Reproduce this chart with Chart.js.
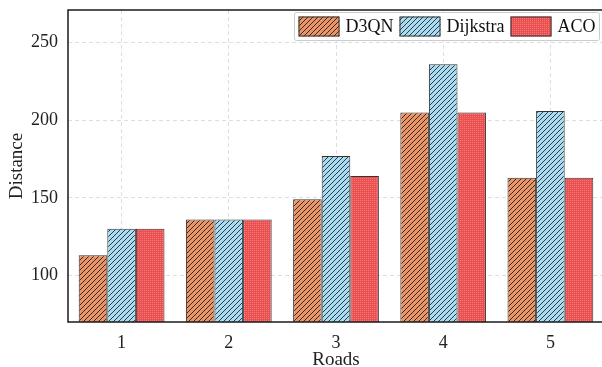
<!DOCTYPE html>
<html>
<head>
<meta charset="utf-8">
<script src="https://cdn.jsdelivr.net/npm/chart.js@4"></script>
<style>
    html, body { margin: 0; padding: 0; background: #fff; overflow: hidden; }
    #wrap { width: 606px; height: 367px; }
</style>
</head>
<body>
<div id="wrap"><canvas id="roadsChart"></canvas></div>
<script>
const roads = ["1", "2", "3", "4", "5"];
const d3qn = [113, 136, 149, 205, 163];
const dijkstra = [130, 136, 177, 236, 206];
const aco = [130, 136, 164, 205, 163];
const yTicks = [100, 150, 200, 250];

const serif = "'Liberation Serif', 'Times New Roman', serif";

// diagonal "/" hatch tile
function hatch(bg, line) {
    const s = 5;
    const c = document.createElement("canvas");
    c.width = s; c.height = s;
    const g = c.getContext("2d");
    g.fillStyle = bg;
    g.fillRect(0, 0, s, s);
    g.strokeStyle = line;
    g.lineWidth = 1;
    g.beginPath();
    g.moveTo(-1, s + 1); g.lineTo(s + 1, -1);
    g.moveTo(-1, 1); g.lineTo(1, -1);
    g.moveTo(s - 1, s + 1); g.lineTo(s + 1, s - 1);
    g.stroke();
    return g.createPattern(c, "repeat");
}

// fine dotted texture for ACO
function dots(bg, dot) {
    const c = document.createElement("canvas");
    c.width = 2; c.height = 2;
    const g = c.getContext("2d");
    g.fillStyle = bg;
    g.fillRect(0, 0, 2, 2);
    g.fillStyle = dot;
    g.fillRect(0, 0, 1, 1);
    return g.createPattern(c, "repeat");
}

const frame = {
    id: "frame",
    afterDatasetsDraw(chart) {
        const a = chart.chartArea, ctx = chart.ctx;
        ctx.save();
        ctx.strokeStyle = "#1a1a1a";
        ctx.lineWidth = 1.5;
        ctx.strokeRect(a.left, a.top, a.right - a.left, a.bottom - a.top);
        ctx.restore();
    }
};

const legendBox = {
    id: "legendBox",
    afterDraw(chart) {
        const ctx = chart.ctx;
        ctx.save();
        ctx.font = "18px " + serif;
        const pw = 41, ph = 20, gap = 6, pad = 4, right = 599.5, top = 12.5, h = 28;
        const items = chart.data.datasets.map(ds => ({
            label: ds.label, fill: ds.backgroundColor, w: ctx.measureText(ds.label).width
        }));
        let total = pad * 2 + gap * (items.length - 1);
        items.forEach(it => total += pw + gap + it.w);
        let x = right - total;

        ctx.fillStyle = "rgba(255,255,255,0.9)";
        ctx.strokeStyle = "#cccccc";
        ctx.lineWidth = 1;
        ctx.beginPath();
        ctx.roundRect(x, top, total, h, 2);
        ctx.fill();
        ctx.stroke();

        x += pad;
        items.forEach(it => {
            const py = top + (h - ph) / 2;
            ctx.fillStyle = it.fill;
            ctx.fillRect(x, py, pw, ph);
            ctx.strokeStyle = "#333";
            ctx.strokeRect(x + 0.5, py + 0.5, pw - 1, ph - 1);
            x += pw + gap;
            ctx.fillStyle = "#111";
            ctx.textBaseline = "middle";
            ctx.fillText(it.label, x, top + h / 2 + 1);
            x += it.w + gap;
        });
        ctx.restore();
    }
};

new Chart(document.getElementById("roadsChart"), {
    type: "bar",
    data: {
        labels: roads,
        datasets: [
            { label: "D3QN", data: d3qn, backgroundColor: hatch("#ea9567", "#3a2a22") },
            { label: "Dijkstra", data: dijkstra, backgroundColor: hatch("#a9dcf2", "#2d3a40") },
            { label: "ACO", data: aco, backgroundColor: dots("#eb5050", "#f27a7a") }
        ]
    },
    options: {
        responsive: true,
        maintainAspectRatio: false,
        animation: false,
        layout: { padding: { top: 10, right: 2, left: 0, bottom: 0 } },
        datasets: {
            bar: {
                categoryPercentage: 0.8,
                barPercentage: 1.0,
                borderColor: "#333",
                borderWidth: 1,
                borderSkipped: false
            }
        },
        plugins: {
            legend: { display: false },
            tooltip: { enabled: false }
        },
        scales: {
            x: {
                grid: { offset: false, color: "#dedede", drawTicks: false },
                border: { display: false, dash: [4, 3] },
                ticks: { padding: 10, color: "#222", font: { family: serif, size: 18 } },
                title: { display: true, text: "Roads", color: "#222", padding: { top: 0, bottom: -4 }, font: { family: serif, size: 19 } },
                afterFit: s => { s.height = 45; s.paddingLeft = 0; s.paddingRight = 0; }
            },
            y: {
                min: 70,
                max: 271,
                afterBuildTicks: s => { s.ticks = yTicks.map(v => ({ value: v })); },
                grid: { color: "#dedede", drawTicks: false },
                border: { display: false, dash: [4, 3] },
                ticks: { padding: 10, color: "#222", font: { family: serif, size: 18 } },
                title: { display: true, text: "Distance", color: "#222", padding: { top: 6, bottom: 0 }, font: { family: serif, size: 19 } },
                afterFit: s => { s.width = 68; s.paddingTop = 0; s.paddingBottom = 0; }
            }
        }
    },
    plugins: [frame, legendBox]
});
</script>
</body>
</html>
